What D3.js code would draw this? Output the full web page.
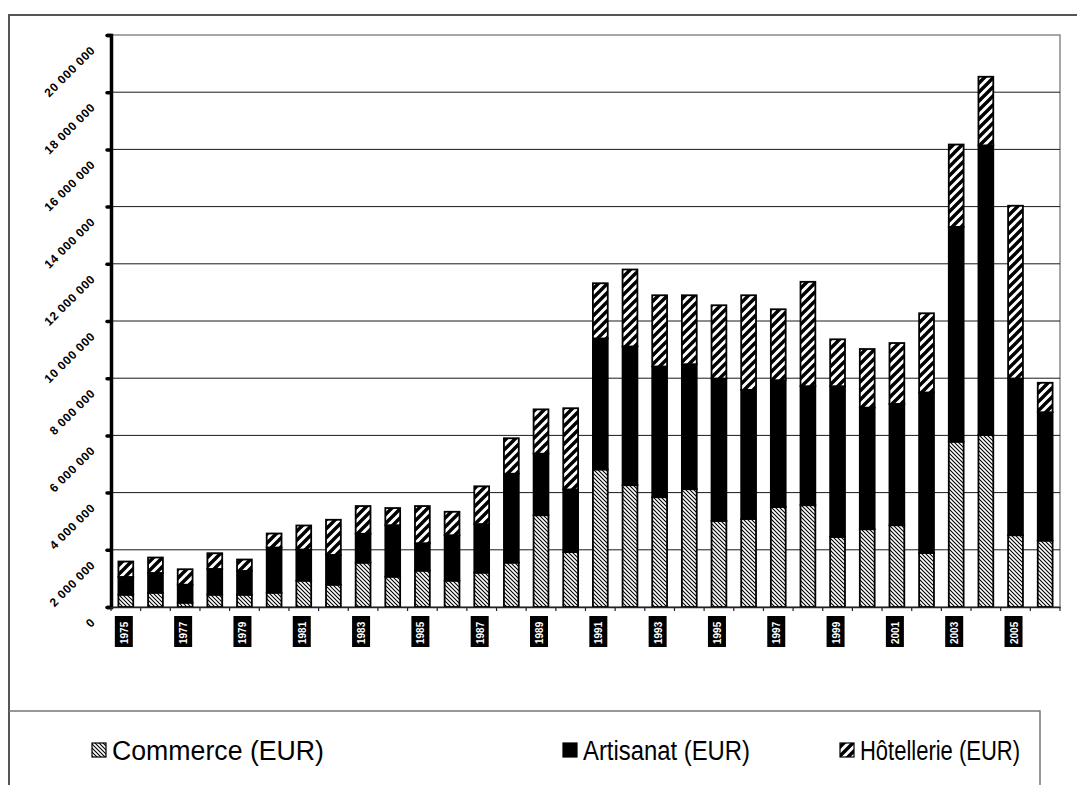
<!DOCTYPE html>
<html>
<head>
<meta charset="utf-8">
<script src="https://cdn.jsdelivr.net/npm/d3@7"></script>
<style>
html, body { margin: 0; padding: 0; background: #fff; }
svg { display: block; }
</style>
</head>
<body>
<svg id="chart" width="1077" height="785"></svg>
<script>
// ---- data (EUR) ----
const categories = ["1975","1976","1977","1978","1979","1980","1981","1982","1983","1984","1985","1986","1987","1988","1989","1990",
                    "1991","1992","1993","1994","1995","1996","1997","1998","1999","2000","2001","2002","2003","2004","2005","2006"];
const commerce   = [430000,500000,150000,430000,430000,500000,920000,780000,1550000,1060000,1270000,920000,1200000,1550000,3210000,1920000,
                    4810000,4260000,3840000,4120000,3010000,3080000,3500000,3560000,2450000,2720000,2860000,1890000,5780000,6010000,2510000,2320000];
const artisanat  = [620000,690000,630000,900000,830000,1580000,1090000,1040000,1010000,1800000,960000,1590000,1700000,3110000,2150000,2190000,
                    4580000,4850000,4570000,4370000,4980000,4510000,4430000,4160000,5270000,4250000,4240000,5610000,7510000,10130000,5480000,4490000];
const hotellerie = [540000,540000,540000,550000,400000,490000,840000,1230000,970000,600000,1300000,820000,1320000,1240000,1550000,2840000,
                    1930000,2690000,2490000,2410000,2560000,3310000,2480000,3650000,1640000,2050000,2130000,2770000,2880000,2400000,6040000,1030000];
const seriesNames = ["Commerce (EUR)", "Artisanat (EUR)", "Hôtellerie (EUR)"];
const yTicks = [0,2000000,4000000,6000000,8000000,10000000,12000000,14000000,16000000,18000000,20000000];

// ---- layout ----
const svg = d3.select("#chart");
const plot = { left: 111, right: 1060, top: 35, bottom: 607 };

// patterns
const defs = svg.append("defs");
const pc = defs.append("pattern").attr("id", "pCom").attr("patternUnits", "userSpaceOnUse")
  .attr("width", 4).attr("height", 4);
pc.append("rect").attr("width", 4).attr("height", 4).attr("fill", "#fff");
pc.append("path").attr("d", "M-1,-1 L5,5 M3,-1 L5,1 M-1,3 L1,5").attr("stroke", "#000").attr("stroke-width", 1.1);

const ph = defs.append("pattern").attr("id", "pHot").attr("patternUnits", "userSpaceOnUse")
  .attr("width", 9).attr("height", 9);
ph.append("rect").attr("width", 9).attr("height", 9).attr("fill", "#fff");
ph.append("path").attr("d", "M-2,11 L11,-2 M-2,2 L2,-2 M7,11 L11,7").attr("stroke", "#000").attr("stroke-width", 3.4);

const fills = ["url(#pCom)", "#000", "url(#pHot)"];

// scales
const x = d3.scaleBand().domain(categories).range([plot.left, plot.right]).paddingInner(0.5).paddingOuter(0.25);
const y = d3.scaleLinear().domain([0, 20000000]).range([plot.bottom, plot.top]);

// outer frame
svg.append("path").attr("d", "M9,785 L9,15 L1077,15").attr("fill", "none").attr("stroke", "#555").attr("stroke-width", 2);

// plot area border (gray)
svg.append("rect").attr("x", plot.left).attr("y", plot.top)
  .attr("width", plot.right - plot.left).attr("height", plot.bottom - plot.top)
  .attr("fill", "none").attr("stroke", "#8a8a8a").attr("stroke-width", 1.5);

// gridlines
svg.append("g").selectAll("line").data(yTicks.filter(d => d > 0 && d < 20000000)).join("line")
  .attr("x1", plot.left).attr("x2", plot.right)
  .attr("y1", d => y(d)).attr("y2", d => y(d))
  .attr("stroke", "#1a1a1a").attr("stroke-width", 1);

// stacked bars
const table = categories.map((c, i) => ({ cat: c, commerce: commerce[i], artisanat: artisanat[i], hotellerie: hotellerie[i] }));
const stack = d3.stack().keys(["commerce", "artisanat", "hotellerie"])(table);
const gBars = svg.append("g");
stack.forEach((layer, li) => {
  gBars.append("g").selectAll("rect").data(layer).join("rect")
    .attr("x", d => x(d.data.cat))
    .attr("width", x.bandwidth())
    .attr("y", d => y(d[1]))
    .attr("height", d => y(d[0]) - y(d[1]))
    .attr("fill", fills[li])
    .attr("stroke", "#000").attr("stroke-width", 1.8);
});

// y axis
const yAxis = d3.axisLeft(y).tickValues(yTicks).tickSize(4).tickFormat("");
const gy = svg.append("g").attr("transform", `translate(${plot.left},0)`).call(yAxis);
gy.select(".domain").attr("stroke", "#000").attr("stroke-width", 3.5);
gy.selectAll(".tick line").attr("stroke", "#000").attr("stroke-width", 3.5).attr("stroke-linecap", "round");

const fmt = v => d3.format(",")(v).replace(/,/g, " ");
svg.append("g").selectAll("text").data(yTicks).join("text")
  .attr("transform", d => `translate(96,${y(d) + 16}) rotate(-45)`)
  .attr("text-anchor", "end")
  .attr("font-family", "Liberation Sans, Arial, sans-serif")
  .attr("font-weight", "bold")
  .attr("font-size", 12)
  .attr("letter-spacing", 0.6)
  .attr("fill", "#000")
  .text(d => fmt(d));

// x axis
const xAxis = d3.axisBottom(x).tickSize(0).tickFormat("");
const gx = svg.append("g").attr("transform", `translate(0,${plot.bottom})`).call(xAxis);
gx.select(".domain").attr("stroke", "#222").attr("stroke-width", 1.5);
// band boundary ticks
svg.append("g").selectAll("line").data(d3.range(categories.length + 1)).join("line")
  .attr("x1", i => plot.left + i * (plot.right - plot.left) / categories.length)
  .attr("x2", i => plot.left + i * (plot.right - plot.left) / categories.length)
  .attr("y1", plot.bottom).attr("y2", plot.bottom + 4)
  .attr("stroke", "#222").attr("stroke-width", 1.2);

// category labels (every other), rendered as heavy blocks
const labelCats = categories.filter((c, i) => i % 2 === 0);
const gl = svg.append("g").selectAll("g").data(labelCats).join("g")
  .attr("transform", d => `translate(${x(d) + x.bandwidth() / 2 - 2},${plot.bottom + 9})`);
gl.append("rect").attr("x", -9).attr("y", 0).attr("width", 18).attr("height", 31).attr("fill", "#000");
gl.append("text")
  .attr("transform", "translate(4,28) rotate(-90)")
  .attr("font-family", "Liberation Sans, Arial, sans-serif")
  .attr("font-weight", "bold")
  .attr("font-size", 10)
  .attr("fill", "#fff")
  .text(d => d);

// legend box
svg.append("path").attr("d", "M9,711 L1040,711 L1040,785").attr("fill", "none").attr("stroke", "#777").attr("stroke-width", 1.5);

const legendX = [92, 563, 840];
const legendW = [212, 167, 160];
const lg = svg.append("g").selectAll("g").data(seriesNames).join("g")
  .attr("transform", (d, i) => `translate(${legendX[i]},0)`);
lg.append("rect").attr("x", 0).attr("y", 743).attr("width", 14).attr("height", 14)
  .attr("fill", (d, i) => fills[i]).attr("stroke", "#000").attr("stroke-width", 1.2);
lg.append("text").attr("x", 20).attr("y", 760)
  .attr("font-family", "Liberation Sans, Arial, sans-serif")
  .attr("font-size", 27)
  .attr("textLength", (d, i) => legendW[i])
  .attr("lengthAdjust", "spacingAndGlyphs")
  .attr("fill", "#000")
  .text(d => d);
</script>
</body>
</html>
